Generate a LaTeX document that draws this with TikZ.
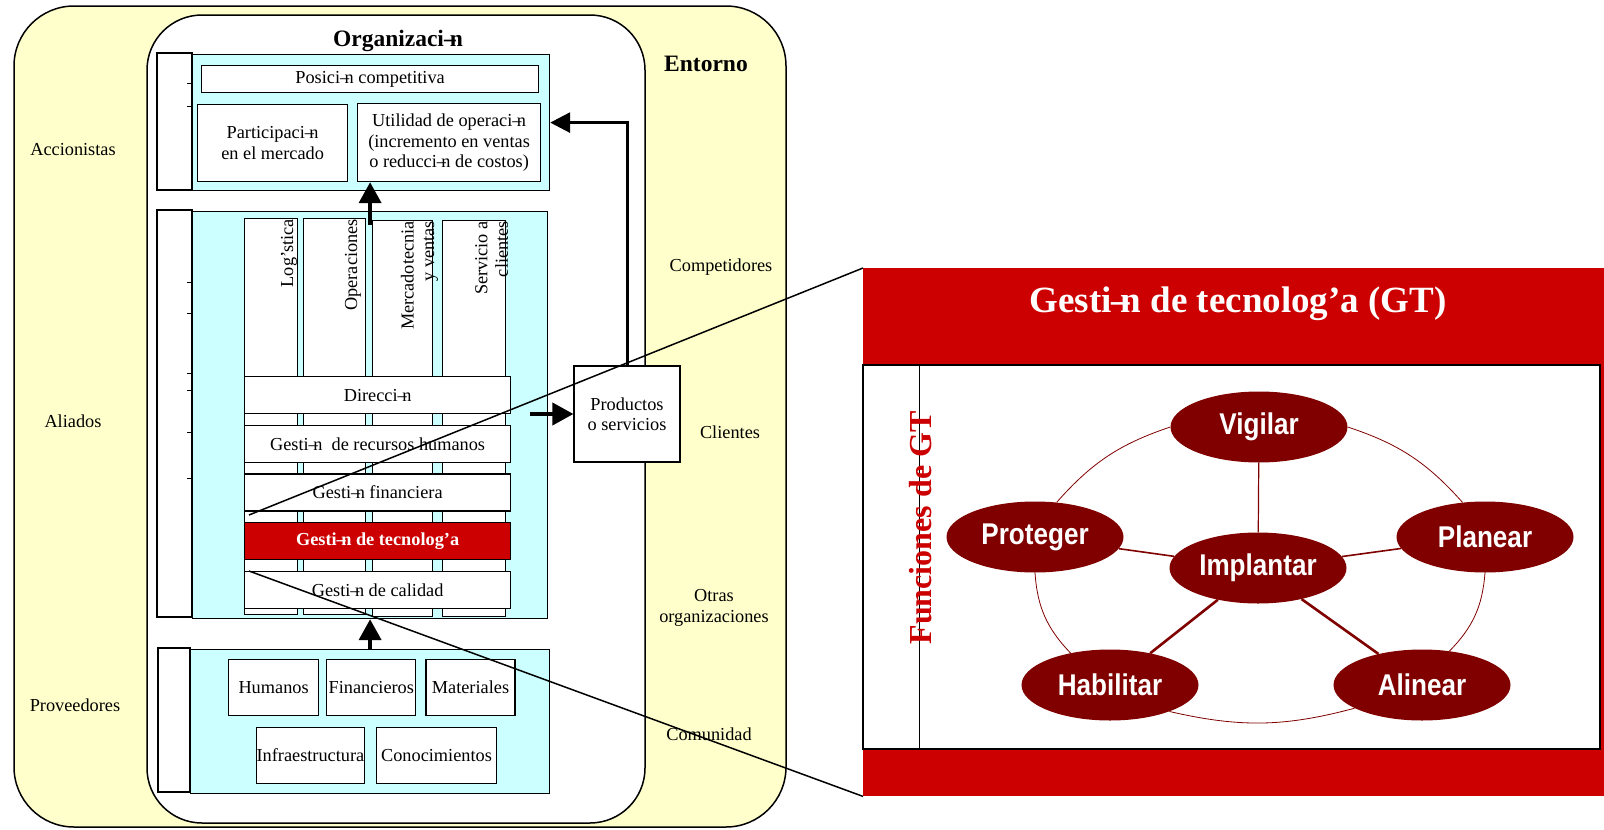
\documentclass[tikz,border=0pt]{standalone}
\usepackage{fontspec}
\setmainfont{Liberation Serif}
\newfontfamily\fnfont[FakeStretch=0.87]{Liberation Sans}
\usetikzlibrary{arrows.meta,positioning,shapes.geometric}

\definecolor{envYellow}{HTML}{FFFFCC}
\definecolor{orgCyan}{HTML}{CCFFFF}
\definecolor{gtRed}{HTML}{CC0000}
\definecolor{gtDark}{HTML}{800000}
\newcommand{\dashn}{–\kern-.25em n}

\begin{document}
\begin{tikzpicture}[x=1pt,y=-1pt,
    txt/.style={font=\fontsize{18.3}{20.5}\selectfont, align=center},
    wbox/.style={txt, draw, fill=white, line width=1.2pt, inner sep=0pt, anchor=north west},
    barbox/.style={wbox, minimum width=266pt, minimum height=37pt},
    colbox/.style={wbox, minimum width=#1, minimum height=396pt},
    coltxt/.style={txt, rotate=90, anchor=south east, align=right, inner sep=1pt},
    res/.style={wbox, minimum height=56pt},
    panel/.style={draw, fill=orgCyan, line width=1.2pt, anchor=north west, inner sep=0pt},
    strip/.style={draw, fill=white, line width=1.2pt},
    bigarrow/.style={line width=4pt, -{Triangle[width=22pt,length=21pt]}},
    fn/.style={ellipse, fill=gtDark, text=white, minimum width=177pt, minimum height=71pt,
      inner sep=0pt, font=\fnfont\bfseries\fontsize{30}{32}\selectfont},
    ring/.style={gtDark, line width=0.8pt},
    spoke/.style={gtDark, line width=1.6pt}]
  \useasboundingbox (0,0) rectangle (1604,830);

  % entorno y organizacion
  \draw[fill=envYellow, line width=1.5pt, rounded corners=60pt] (14,6) rectangle (786,827);
  \draw[fill=white, line width=1.5pt, rounded corners=55pt] (147,15) rectangle (645,823);

  \node[font=\bfseries\fontsize{23.5}{26}\selectfont] (orgTitle) at (398,41) {Organizaci\dashn};
  \node[font=\bfseries\fontsize{23.5}{26}\selectfont] (envTitle) at (706,64) {Entorno};
  \node[txt] (accionistas)  at (73,150) {Accionistas};
  \node[txt] (aliados)      at (73,421) {Aliados};
  \node[txt] (proveedores)  at (75,705) {Proveedores};
  \node[txt] (competidores) at (721,267) {Competidores};
  \node[txt] (clientes)     at (730,432) {Clientes};
  \node[txt] (otrasOrg)     at (714,608) {Otras\\organizaciones};
  \node[txt] (comunidad)    at (709,734) {Comunidad};

  % resultados
  \draw[strip] (157,53) rectangle (192,190);
  \node[panel, minimum width=357pt, minimum height=136pt] (topPanel) at (192,54) {};
  \node[wbox, minimum width=337pt, minimum height=27pt] (posComp) at (201,65) {Posici\dashn{} competitiva};
  \node[wbox, minimum width=150pt, minimum height=77pt] (partMercado) at (197,104) {Participaci\dashn\\en el mercado};
  \node[wbox, minimum width=183pt, minimum height=78pt] (utilOper) at (357,103)
        {Utilidad de operaci\dashn\\(incremento en ventas\\o reducci\dashn{} de costos)};

  % procesos
  \draw[strip] (157,210) rectangle (192,617);
  \node[panel, minimum width=355pt, minimum height=407pt] (midPanel) at (192,211) {};
  \node[colbox=53pt] (colLogistica)   at (244,218) {};
  \node[colbox=62pt] (colOperaciones) at (303,218) {};
  \node[colbox=60pt] (colMercadeo)    at (372,220) {};
  \node[colbox=63pt] (colServicio)    at (442,220) {};
  \node[coltxt] (labLogistica)   at (colLogistica.north east) {Log’stica};
  \node[coltxt] (labOperaciones) at ([xshift=-4pt]colOperaciones.north east) {Operaciones};
  \node[coltxt] (labMercadeo)    at ([xshift=6pt]colMercadeo.north east) {Mercadotecnia\\y ventas};
  \node[coltxt] (labServicio)    at ([xshift=3pt]colServicio.north east) {Servicio a\\clientes};

  \node[barbox] (barDireccion)  at (244,376) {Direcci\dashn};
  \node[barbox] (barRecHumanos) [below=10.5pt of barDireccion]  {Gesti\dashn\ \ de recursos humanos};
  \node[barbox] (barFinanciera) [below=10.5pt of barRecHumanos] {Gesti\dashn{} financiera};
  \node[barbox, fill=gtRed, text=white, font=\bfseries\fontsize{18.3}{20.5}\selectfont]
        (barTecnologia) [below=10.5pt of barFinanciera] {Gesti\dashn{} de tecnolog’a};
  \node[barbox] (barCalidad)    [below=10.5pt of barTecnologia] {Gesti\dashn{} de calidad};

  % recursos
  \draw[strip] (158,648) rectangle (190,792);
  \node[panel, minimum width=359pt, minimum height=144pt] (botPanel) at (190,649) {};
  \node[res, minimum width=90pt]  (recHumanos)       at (228,659) {Humanos};
  \node[res, minimum width=89pt]  (recFinancieros)   [right=7pt of recHumanos] {Financieros};
  \node[res, minimum width=89pt]  (recMateriales)    [right=9pt of recFinancieros] {Materiales};
  \node[res, minimum width=106pt] (recInfra)         at (256,727) {Infraestructura};
  \node[res, minimum width=120pt] (recConocimientos) [right=11pt of recInfra] {Conocimientos};

  \foreach \ty in {83,106,282,313,373,390,432,478}
    \draw[line width=0.8pt] (187,\ty) -- (191,\ty);

  % salidas
  \node[wbox, anchor=center, minimum width=106pt, minimum height=96pt] (productos) at (627,414) {Productos\\o servicios};
  \draw[bigarrow] ([yshift=-14pt]midPanel.north) -- (midPanel.north |- utilOper.south);
  \draw[bigarrow] (botPanel.north) -- (botPanel.north |- midPanel.south);
  \draw[bigarrow] ([xshift=-18pt]midPanel.east |- productos.west) -- (productos.west);
  \draw[line width=3pt, -{Triangle[width=20pt,length=20pt]}] (productos.north) |- (topPanel.east);

  % gestion de tecnologia
  \node[fill=gtRed, anchor=north west, inner sep=0pt, minimum width=741pt, minimum height=528pt] (gtPanel) at (863,268) {};
  \node[text=white, font=\bfseries\fontsize{37}{40}\selectfont] (gtTitle) at (1238,304) {Gesti\dashn{} de tecnolog’a (GT)};
  \draw[fill=white, line width=1.5pt] (863,365) rectangle (1600,749);
  \draw[line width=2.5pt] (863,749) -- (1600,749) -- (1600,365);
  \draw[line width=1pt] (919,365) -- (919,749);
  \node[rotate=90, text=gtRed, font=\bfseries\fontsize{32}{34}\selectfont] (gtFunciones) at (921,528) {Funciones de GT};

  \node[fn] (fnVigilar)   at (1259,427) {Vigilar};
  \node[fn] (fnProteger)  at (1035,537) {Proteger};
  \node[fn] (fnPlanear)   at (1485,537) {Planear};
  \node[fn] (fnImplantar) at (1258,568) {Implantar};
  \node[fn] (fnHabilitar) at (1110,685) {Habilitar};
  \node[fn] (fnAlinear)   at (1422,685) {Alinear};

  \draw[spoke, line width=1.2pt] (fnVigilar) -- (fnImplantar);
  \draw[spoke] (fnProteger) -- (fnImplantar);
  \draw[spoke] (fnPlanear) -- (fnImplantar);
  \draw[spoke, line width=2.6pt] (fnImplantar) -- (fnHabilitar);
  \draw[spoke, line width=2.6pt] (fnImplantar) -- (fnAlinear);

  \draw[ring] (fnVigilar.west) to[bend right=15] (fnProteger.58);
  \draw[ring] (fnProteger.south) to[bend right=20] (fnHabilitar.141);
  \draw[ring] (fnHabilitar.-24) to[bend right=14] (fnAlinear.199);
  \draw[ring] (fnAlinear.51) to[bend right=20] (fnPlanear.south);
  \draw[ring] (fnPlanear.123) to[bend right=15] (fnVigilar.east);

  % lupa
  \coordinate (lupaTop) at (249,515);
  \coordinate (lupaBot) at (249,571);
  \draw[line width=1.5pt] (lupaTop) -- (gtPanel.north west);
  \draw[line width=1.5pt] (lupaBot) -- (gtPanel.south west);
\end{tikzpicture}
\end{document}
